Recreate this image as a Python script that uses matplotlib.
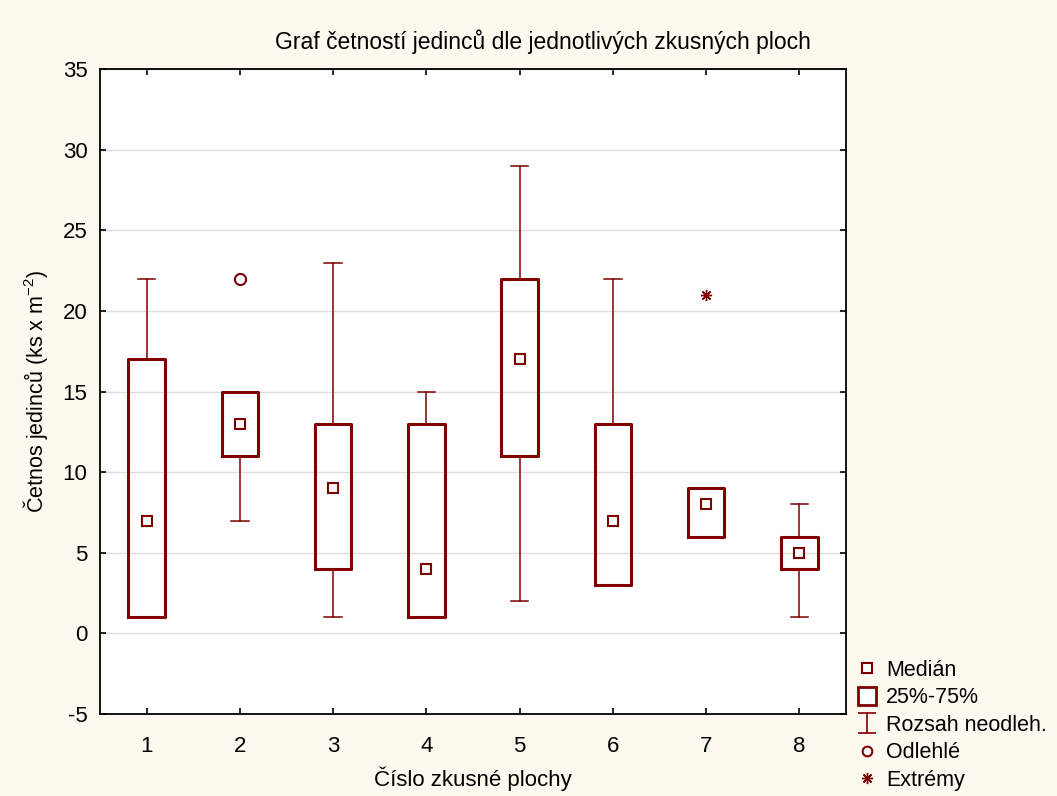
"""Box plot of individual counts per test plot (Statistica-like look)."""

import matplotlib.pyplot as plt
from matplotlib.lines import Line2D
from matplotlib.path import Path
import matplotlib.ticker as mticker

plt.rcParams["font.family"] = ["Liberation Sans", "DejaVu Sans"]
plt.rcParams["mathtext.fontset"] = "custom"
plt.rcParams["mathtext.rm"] = "Liberation Sans"
plt.rcParams["mathtext.it"] = "Liberation Sans:italic"
plt.rcParams["axes.unicode_minus"] = False

# summary values
plots = [1, 2, 3, 4, 5, 6, 7, 8]
medians = [7, 13, 9, 4, 17, 7, 8, 5]
q1 = [1, 11, 4, 1, 11, 3, 6, 4]
q3 = [17, 15, 13, 13, 22, 13, 9, 6]
whis_lo = [1, 7, 1, 1, 2, 3, 6, 1]
whis_hi = [22, 15, 23, 15, 29, 22, 9, 8]
outlier_x = [2]
outlier_y = [22]
extreme_x = [7]
extreme_y = [21]

RED = "#800000"
BG = "#fdf9ef"
FS = 16

fig = plt.figure(figsize=(10.57, 7.96), dpi=100, facecolor=BG)
ax = fig.add_axes([0.0946, 0.103, 0.7058, 0.81])
ax.set_facecolor("white")

stats = []
for i in range(len(plots)):
    stats.append({
        "med": medians[i], "q1": q1[i], "q3": q3[i],
        "whislo": whis_lo[i], "whishi": whis_hi[i], "fliers": [],
    })

ax.bxp(
    stats, positions=plots, widths=0.39, showfliers=False,
    boxprops=dict(color=RED, linewidth=2.2),
    whiskerprops=dict(color=RED, linewidth=1.1),
    capprops=dict(color=RED, linewidth=1.1),
    medianprops=dict(linestyle="none"),
    capwidths=0.19, zorder=3,
)

ax.plot(plots, medians, "s", color=RED, markerfacecolor="white",
        markersize=7, markeredgewidth=1.5, linestyle="none", zorder=4)
ax.plot(outlier_x, outlier_y, "o", color=RED, markerfacecolor="white",
        markersize=8, markeredgewidth=1.5, linestyle="none", zorder=4)
ax.plot(extreme_x, extreme_y, marker=(8, 2, 0), color=RED,
        markersize=8, markeredgewidth=1.0, linestyle="none", zorder=4)

ax.set_xlim(0.5, 8.5)
ax.set_ylim(-5, 35)
ax.yaxis.set_major_locator(mticker.MultipleLocator(5))
ax.set_xticks(plots)
ax.grid(True, axis="y", color="#dddddd", linewidth=1.0, zorder=0)
ax.set_axisbelow(True)
ax.tick_params(direction="in", length=4, width=1.2, top=True, right=True,
               labelsize=FS)
ax.tick_params(axis="x", pad=16)
ax.tick_params(axis="y", pad=9)
for sp in ax.spines.values():
    sp.set_linewidth(1.3)

ax.set_xlabel("Číslo zkusné plochy", fontsize=FS, labelpad=7)
ax.set_ylabel("Četnos jedinců (ks x m$^{-2}$)", fontsize=15.5, labelpad=9)
fig.text(0.514, 0.947, "Graf četností jedinců dle jednotlivých zkusných ploch",
         ha="center", va="center", fontsize=16.5)

# whisker-range legend marker: vertical line with caps
whisk_path = Path(
    [(-0.9, 1), (0.9, 1), (0, 1), (0, -1), (-0.9, -1), (0.9, -1)],
    [Path.MOVETO, Path.LINETO, Path.MOVETO, Path.LINETO, Path.MOVETO, Path.LINETO],
)
handles = [
    Line2D([], [], marker="s", color=RED, markerfacecolor="white",
           markersize=7, markeredgewidth=1.5, linestyle="none"),
    Line2D([], [], marker="s", color=RED, markerfacecolor="white",
           markersize=13, markeredgewidth=2.0, linestyle="none"),
    Line2D([], [], marker=whisk_path, color=RED, markersize=14.5,
           markeredgewidth=1.2, linestyle="none"),
    Line2D([], [], marker="o", color=RED, markerfacecolor="white",
           markersize=7, markeredgewidth=1.5, linestyle="none"),
    Line2D([], [], marker=(8, 2, 0), color=RED, markersize=8,
           markeredgewidth=1.0, linestyle="none"),
]
labels = ["Medián", "25%-75%", "Rozsah neodleh.", "Odlehlé", "Extrémy"]
fig.legend(handles, labels, loc="upper left", bbox_to_anchor=(0.811, 0.171),
           frameon=False, fontsize=15.5, handlelength=0.9, handletextpad=0.45,
           labelspacing=0.3, borderaxespad=0.0, borderpad=0.0)

fig.savefig("out.png", dpi=100, facecolor=BG)
